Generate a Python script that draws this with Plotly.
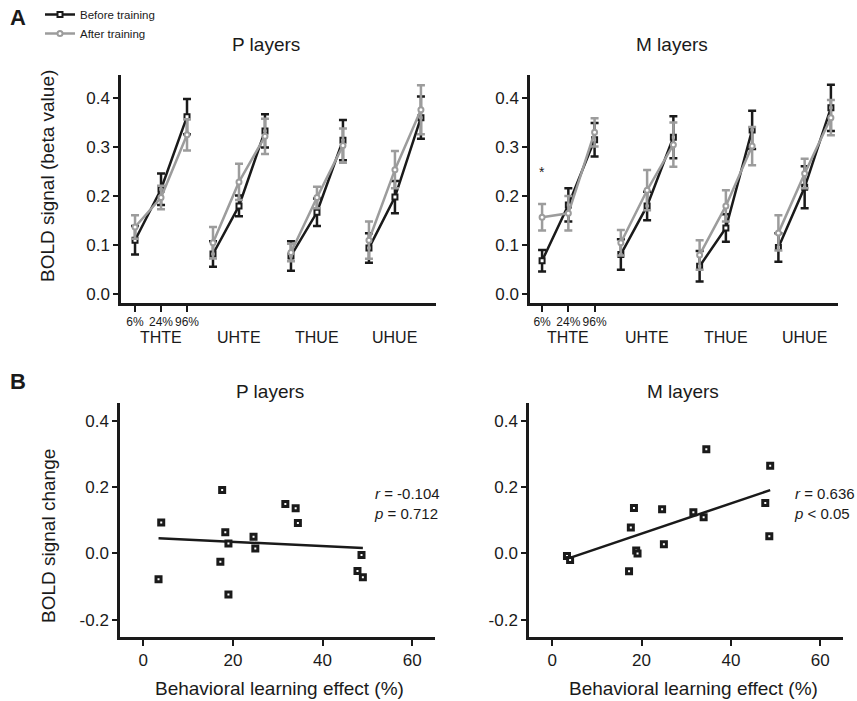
import numpy as np
import plotly.graph_objects as go

# ---------------- data ----------------
conditions = ["THTE", "UHTE", "THUE", "UHUE"]
levels = ["6%", "24%", "96%"]

# P layers (order: THTE 6/24/96, UHTE ..., THUE ..., UHUE ...)
p_before_mean = [0.110, 0.214, 0.362, 0.082, 0.180, 0.333, 0.078, 0.167, 0.314, 0.094, 0.198, 0.360]
p_before_err = [0.029, 0.032, 0.036, 0.026, 0.021, 0.034, 0.030, 0.028, 0.041, 0.030, 0.033, 0.043]
p_after_mean = [0.137, 0.197, 0.325, 0.105, 0.229, 0.322, 0.085, 0.197, 0.303, 0.110, 0.254, 0.376]
p_after_err = [0.024, 0.024, 0.032, 0.032, 0.037, 0.036, 0.018, 0.022, 0.035, 0.038, 0.038, 0.050]

# M layers
m_before_mean = [0.068, 0.182, 0.315, 0.081, 0.180, 0.320, 0.057, 0.135, 0.335, 0.095, 0.218, 0.380]
m_before_err = [0.022, 0.034, 0.034, 0.031, 0.029, 0.043, 0.031, 0.028, 0.039, 0.029, 0.043, 0.047]
m_after_mean = [0.157, 0.165, 0.330, 0.105, 0.212, 0.305, 0.080, 0.180, 0.302, 0.125, 0.246, 0.360]
m_after_err = [0.027, 0.035, 0.029, 0.026, 0.041, 0.045, 0.030, 0.032, 0.039, 0.036, 0.030, 0.036]

# Panel B scatter
p_learn = [3.4, 4.0, 17.6, 17.2, 18.3, 19.0, 19.0, 24.6, 25.0, 31.7, 34.0, 34.5, 48.7, 47.8, 49.0]
p_change = [-0.078, 0.093, 0.191, -0.025, 0.064, 0.030, -0.124, 0.050, 0.015, 0.149, 0.136, 0.092, -0.005, -0.053, -0.072]
m_learn = [3.3, 4.0, 17.2, 17.6, 18.3, 18.8, 19.1, 24.6, 25.0, 31.6, 33.9, 34.5, 47.7, 48.8, 48.6]
m_change = [-0.008, -0.020, -0.054, 0.078, 0.137, 0.009, 0.000, 0.133, 0.028, 0.124, 0.109, 0.314, 0.152, 0.264, 0.052]

top_ticks = [0.0, 0.1, 0.2, 0.3, 0.4]
top_ticktext = ["0.0", "0.1", "0.2", "0.3", "0.4"]
bot_yticks = [-0.2, 0.0, 0.2, 0.4]
bot_yticktext = ["-0.2", "0.0", "0.2", "0.4"]
bot_xticks = [0, 20, 40, 60]

p_stats = "<i>r</i> = -0.104<br><i>p</i> = 0.712"
m_stats = "<i>r</i> = 0.636<br><i>p</i> &lt; 0.05"

# ---------------- styling ----------------
W, H = 857, 701
BLACK = "#1a1a1a"
GRAY = "#9c9c9c"
FONT = "Liberation Sans, Arial, sans-serif"


def px_x(a, b):
    return [a / W, b / W]


def px_y(top, bottom):
    return [(H - bottom) / H, (H - top) / H]


fig = go.Figure()

top_panels = [
    ("x", "y", p_before_mean, p_before_err, p_after_mean, p_after_err),
    ("x2", "y2", m_before_mean, m_before_err, m_after_mean, m_after_err),
]

for pi, (xa, ya, bm, be, am, ae) in enumerate(top_panels):
    for g in range(len(conditions)):
        xs = [g * 3 + k for k in range(len(levels))]
        sl = slice(g * 3, g * 3 + 3)
        for name, color, symbol, mean, err in [
            ("Before training", BLACK, "square", bm, be),
            ("After training", GRAY, "circle", am, ae),
        ]:
            fig.add_trace(go.Scatter(
                x=xs, y=mean[sl],
                error_y=dict(type="data", array=err[sl], color=color, thickness=2.5, width=4),
                mode="lines+markers",
                line=dict(color=color, width=2.5),
                marker=dict(symbol=symbol, size=5, color="white", line=dict(color=color, width=2)),
                name=name, legendgroup=name,
                showlegend=(pi == 0 and g == 0),
                xaxis=xa, yaxis=ya,
            ))

bottom_panels = [("x3", "y3", p_learn, p_change), ("x4", "y4", m_learn, m_change)]
for xa, ya, xv, yv in bottom_panels:
    xv_arr = np.array(xv)
    slope, intercept = np.polyfit(xv_arr, np.array(yv), 1)
    xl = np.array([xv_arr.min(), xv_arr.max()])
    fig.add_trace(go.Scatter(x=xl, y=slope * xl + intercept, mode="lines",
                             line=dict(color=BLACK, width=2.5), showlegend=False,
                             xaxis=xa, yaxis=ya, hoverinfo="skip"))
    fig.add_trace(go.Scatter(x=xv, y=yv, mode="markers",
                             marker=dict(symbol="square", size=5, color="white",
                                         line=dict(color=BLACK, width=3)),
                             showlegend=False, xaxis=xa, yaxis=ya))

axis_common = dict(showline=True, linecolor=BLACK, linewidth=2.5, ticks="outside",
                   tickcolor=BLACK, tickwidth=2, ticklen=5, showgrid=False, zeroline=False,
                   tickfont=dict(family=FONT, size=17, color=BLACK))

top_x = dict(axis_common, tickvals=[0, 1, 2], ticktext=levels, ticklen=6, tickangle=0,
             tickfont=dict(family=FONT, size=12, color=BLACK))
top_y = dict(axis_common, range=[-0.018, 0.447], tickvals=top_ticks, ticktext=top_ticktext)
bot_x = dict(axis_common, range=[-5.2, 65.1], tickvals=bot_xticks, ticklen=6)
bot_y = dict(axis_common, range=[-0.252, 0.4535], tickvals=bot_yticks, ticktext=bot_yticktext)

fig.update_layout(
    width=W, height=H,
    margin=dict(l=0, r=0, t=0, b=0),
    paper_bgcolor="white", plot_bgcolor="white",
    font=dict(family=FONT, color=BLACK),
    xaxis=dict(top_x, domain=px_x(121, 436), range=[-0.54, 11.58], anchor="y"),
    yaxis=dict(top_y, domain=px_y(75, 303), anchor="x"),
    xaxis2=dict(top_x, domain=px_x(530, 838), range=[-0.46, 11.27], anchor="y2"),
    yaxis2=dict(top_y, domain=px_y(75, 303), anchor="x2"),
    xaxis3=dict(bot_x, domain=px_x(120, 435), anchor="y3"),
    yaxis3=dict(bot_y, domain=px_y(403, 637), anchor="x3"),
    xaxis4=dict(bot_x, domain=px_x(529, 843), anchor="y4"),
    yaxis4=dict(bot_y, domain=px_y(403, 637), anchor="x4"),
    legend=dict(x=40 / W, y=1.0, xanchor="left", yanchor="top",
                font=dict(family=FONT, size=11.5, color=BLACK),
                bgcolor="rgba(0,0,0,0)", itemwidth=30, tracegroupgap=0),
)

ann = []


def add_text(text, x, y, size, xref="paper", yref="paper", xanchor="center",
             yanchor="middle", angle=0, bold=False, align="center"):
    ann.append(dict(text=("<b>%s</b>" % text) if bold else text, x=x, y=y,
                    xref=xref, yref=yref, xanchor=xanchor, yanchor=yanchor,
                    showarrow=False, textangle=angle, align=align,
                    font=dict(family=FONT, size=size, color=BLACK)))


# panel letters
add_text("A", 18 / W, 1 - 18 / H, 22, bold=True)
add_text("B", 18 / W, 1 - 381 / H, 22, bold=True)
# titles
add_text("P layers", 266 / W, 1 - 45 / H, 19)
add_text("M layers", 672 / W, 1 - 45 / H, 19)
add_text("P layers", 270 / W, 1 - 391 / H, 19)
add_text("M layers", 683 / W, 1 - 391 / H, 19)
# y titles
add_text("BOLD signal (beta value)", 48 / W, 1 - 176 / H, 19, angle=-90)
add_text("BOLD signal change", 48 / W, 1 - 536 / H, 19, angle=-90)
# x titles
add_text("Behavioral learning effect (%)", 279 / W, 1 - 688 / H, 19)
add_text("Behavioral learning effect (%)", 693 / W, 1 - 688 / H, 19)
# condition labels
for xa in ["x", "x2"]:
    for g, c in enumerate(conditions):
        add_text(c, g * 3 + 1, 1 - 338 / H, 16, xref=xa)
# asterisk
add_text("*", 0, 0.25, 14, xref="x2", yref="y2")
# stats
add_text(p_stats, 372 / W, 1 - 503 / H, 15, xanchor="left", align="left")
add_text(m_stats, 792 / W, 1 - 503 / H, 15, xanchor="left", align="left")

fig.update_layout(annotations=ann)

fig.write_html("out.html", config={"displayModeBar": False},
               post_script="document.body.style.margin='0';document.body.style.overflow='hidden';")
